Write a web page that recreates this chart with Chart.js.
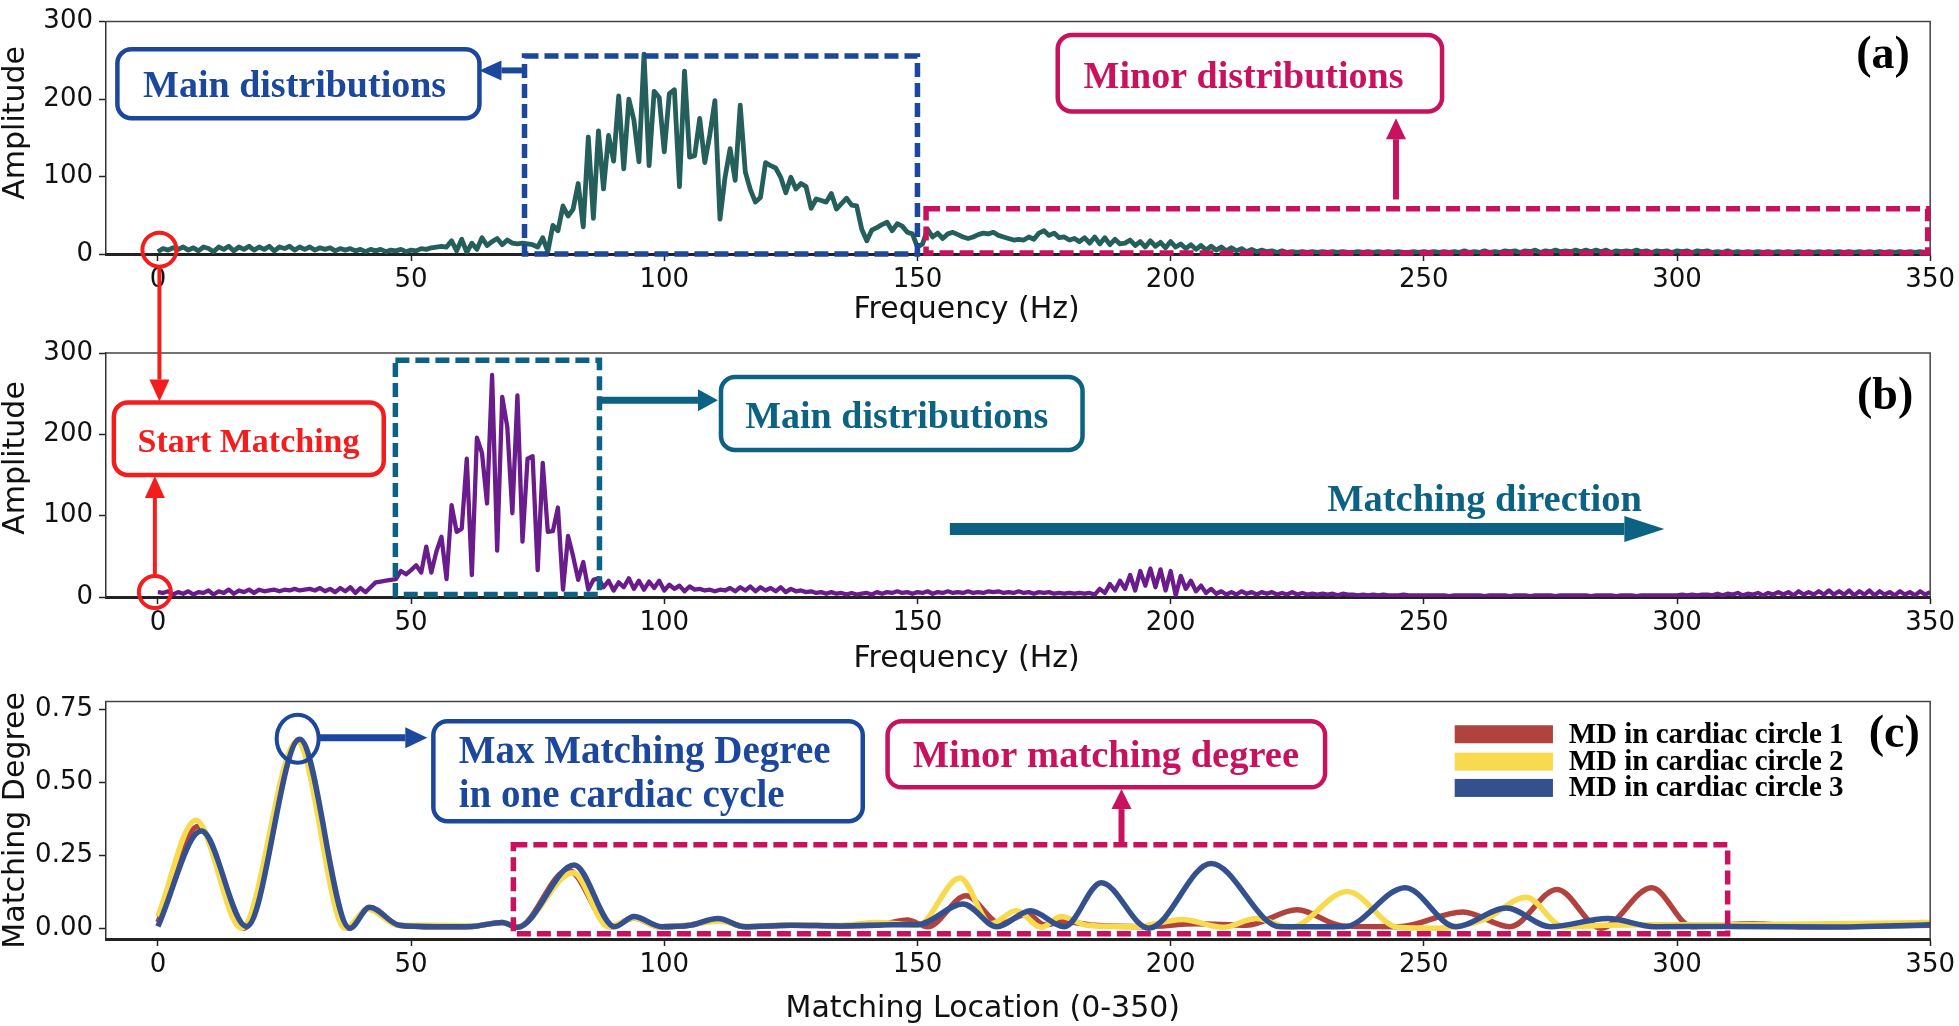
<!DOCTYPE html>
<html>
<head>
<meta charset="utf-8">
<title>Frequency distribution matching</title>
<script src="https://cdn.jsdelivr.net/npm/chart.js"></script>
<style>
  html, body { margin: 0; padding: 0; background: #fff; }
  #wrap { position: relative; width: 1959px; height: 1026px; overflow: hidden; }
  #wrap canvas { position: absolute; left: 0; }
  #chartA { top: 0; }
  #chartB { top: 330px; }
  #chartC { top: 680px; }
  #notes { top: 0; pointer-events: none; }
</style>
</head>
<body>
<div id="wrap">
  <canvas id="chartA" width="1959" height="330"></canvas>
  <canvas id="chartB" width="1959" height="350"></canvas>
  <canvas id="chartC" width="1959" height="346"></canvas>
  <canvas id="notes" width="1959" height="1026"></canvas>
</div>
<script>
// ---- data ----
const freqTicks = [0, 50, 100, 150, 200, 250, 300, 350];
const ampTicks = [0, 100, 200, 300];
const mdTicks = [0, 0.25, 0.5, 0.75];

// one sample per Hz, 0..350
const freqs = Array.from({ length: 351 }, (_, i) => i);

// (a) spectrum
const ampA = [
  3, 7, 5, 8, 6, 9, 5, 8, 4, 9,
  7, 3, 9, 6, 10, 4, 9, 6, 10, 5,
  9, 6, 10, 4, 9, 7, 10, 5, 9, 6,
  9, 5, 8, 6, 8, 4, 7, 5, 7, 4,
  6, 3, 6, 4, 6, 3, 5, 4, 6, 3,
  5, 4, 7, 6, 8, 9, 10, 9, 17, 4,
  19, 2, 14, 6, 21, 11, 16, 20, 12, 18,
  14, 13, 14, 13, 12, 9, 21, 3, 37, 30,
  62, 49, 58, 91, 35, 151, 46, 159, 84, 153,
  120, 204, 110, 200, 173, 119, 258, 114, 210, 202,
  132, 207, 212, 87, 236, 125, 127, 175, 118, 154,
  198, 45, 99, 136, 95, 192, 106, 83, 67, 73,
  118, 114, 111, 99, 79, 99, 84, 91, 87, 59,
  71, 69, 67, 78, 58, 65, 72, 63, 62, 32,
  17, 31, 34, 38, 41, 30, 39, 36, 28, 26,
  9, 13, 32, 22, 27, 20, 26, 28, 25, 22,
  20, 22, 25, 27, 26, 28, 24, 22, 20, 18,
  19, 18, 22, 19, 27, 30, 24, 27, 21, 22,
  18, 20, 16, 21, 14, 22, 13, 21, 12, 19,
  13, 14, 18, 11, 16, 9, 17, 10, 15, 8,
  16, 9, 13, 7, 12, 6, 11, 5, 10, 5,
  9, 4, 8, 4, 7, 3, 6, 3, 5, 3,
  4, 2, 4, 2, 3, 2, 3, 2, 3, 2,
  3, 2, 3, 2, 3, 2, 2, 3, 2, 3,
  2, 3, 2, 3, 2, 3, 2, 2, 3, 2,
  3, 2, 3, 2, 3, 2, 3, 2, 4, 2,
  3, 2, 4, 2, 3, 2, 4, 3, 4, 2,
  4, 3, 5, 2, 4, 3, 5, 3, 4, 3,
  5, 3, 5, 3, 5, 3, 5, 2, 4, 3,
  4, 3, 5, 3, 4, 2, 4, 3, 4, 2,
  4, 3, 4, 2, 4, 3, 4, 2, 3, 2,
  4, 2, 3, 2, 3, 2, 3, 2, 3, 2,
  3, 2, 3, 2, 3, 2, 3, 2, 3, 2,
  3, 2, 3, 2, 3, 2, 3, 2, 3, 2,
  3, 2, 3, 2, 3, 2, 3, 2, 3, 2, 3
];

// (b) spectrum
const ampB = [
  6, 5, 7, 3, 6, 4, 7, 3, 6, 5,
  8, 3, 7, 5, 9, 4, 8, 6, 9, 5,
  9, 7, 8, 9, 7, 9, 8, 10, 8, 9,
  10, 8, 11, 7, 10, 6, 11, 7, 12, 5,
  11, 6, 12, 18, 19, 20, 21, 22, 32, 28,
  33, 39, 30, 62, 30, 56, 74, 22, 113, 80,
  84, 170, 27, 196, 177, 115, 273, 57, 246, 209,
  103, 248, 68, 170, 173, 33, 165, 80, 81, 110,
  9, 75, 50, 21, 43, 9, 21, 23, 12, 20,
  8, 18, 12, 23, 10, 20, 9, 19, 11, 20,
  8, 15, 10, 14, 7, 13, 9, 10, 8, 9,
  7, 9, 8, 11, 7, 12, 8, 13, 7, 12,
  8, 11, 7, 12, 6, 10, 7, 8, 6, 7,
  5, 6, 4, 6, 4, 5, 3, 5, 3, 4,
  5, 3, 6, 4, 6, 5, 7, 5, 6, 4,
  6, 5, 7, 4, 6, 5, 7, 5, 6, 5,
  7, 5, 6, 5, 7, 6, 7, 5, 6, 5,
  7, 5, 6, 4, 6, 5, 6, 4, 5, 4,
  5, 4, 5, 4, 5, 3, 10, 5, 16, 8,
  20, 10, 27, 8, 32, 14, 35, 12, 34, 8,
  32, 2, 26, 10, 20, 7, 14, 5, 10, 4,
  7, 3, 6, 3, 7, 4, 6, 3, 6, 4,
  6, 3, 5, 3, 6, 3, 5, 3, 4, 3,
  4, 3, 4, 2, 4, 3, 3, 2, 3, 2,
  3, 2, 3, 2, 2, 2, 3, 2, 2, 2,
  2, 2, 2, 2, 2, 1, 2, 2, 2, 2,
  2, 2, 1, 2, 2, 2, 2, 1, 2, 2,
  2, 1, 2, 2, 2, 2, 1, 2, 2, 2,
  2, 2, 2, 1, 2, 2, 2, 2, 1, 2,
  2, 2, 1, 2, 2, 2, 2, 2, 2, 2,
  2, 3, 2, 3, 2, 3, 3, 2, 4, 2,
  4, 3, 5, 2, 4, 3, 5, 2, 5, 3,
  6, 3, 6, 2, 7, 3, 6, 3, 7, 3,
  8, 3, 7, 3, 8, 2, 7, 3, 8, 2,
  7, 3, 6, 2, 7, 3, 6, 2, 7, 3, 6
];

// (c) matching degree, read at turning points of each curve
const md1X = [0, 8, 17, 27.8, 37.5, 41.8, 47.5, 55, 62, 68, 71, 81, 89.5, 94, 99, 105, 110.6, 116, 125, 135, 142, 148, 152, 159.6, 166.4, 171.7, 175, 179, 185, 195, 205, 215, 225, 234, 245, 257.7, 267, 276.3, 285, 295, 303, 315, 325, 340, 350];
const md1Y = [0.02, 0.35, 0.0, 0.645, 0.0, 0.07, 0.01, 0.005, 0.006, 0.02, 0.003, 0.2, 0.005, 0.035, 0.005, 0.01, 0.03, 0.005, 0.01, 0.008, 0.01, 0.028, 0.005, 0.111, 0.015, 0.05, 0.012, 0.022, 0.01, 0.005, 0.015, 0.01, 0.063, 0.008, 0.005, 0.056, 0.005, 0.133, 0.0, 0.139, 0.005, 0.015, 0.005, 0.008, 0.01];
const md2X = [0, 7.5, 16.5, 27.5, 37, 41.5, 47.5, 55, 62, 68, 71, 82, 89, 94, 99, 105, 111, 116, 125, 135, 142, 150, 158.4, 164.5, 169.5, 174.5, 178.3, 183.6, 193, 202.3, 210.3, 216.9, 223.6, 234.9, 244.9, 252.9, 262, 270.2, 277.6, 286, 295, 310, 330, 350];
const md2Y = [0.04, 0.37, 0.0, 0.64, 0.0, 0.065, 0.01, 0.01, 0.008, 0.02, 0.005, 0.19, 0.005, 0.035, 0.005, 0.012, 0.025, 0.006, 0.012, 0.01, 0.02, 0.01, 0.172, 0.015, 0.06, 0.003, 0.04, 0.01, 0.005, 0.03, 0.003, 0.033, 0.003, 0.126, 0.003, 0.0, 0.03, 0.106, 0.005, 0.01, 0.012, 0.012, 0.015, 0.02];
const md3X = [0, 8.6, 17.5, 28, 37.9, 41.8, 47.7, 55, 62, 68, 71, 82.2, 90.2, 94, 99.5, 105, 110.6, 116, 125, 135, 145, 150, 159, 165.7, 172.3, 179, 186.3, 195.7, 208, 221.6, 234.3, 246.3, 256.3, 266.3, 275, 286.3, 295.6, 310, 330, 350];
const md3Y = [0.006, 0.333, 0.006, 0.648, 0.0, 0.072, 0.01, 0.005, 0.006, 0.02, 0.003, 0.217, 0.005, 0.04, 0.005, 0.01, 0.033, 0.005, 0.01, 0.008, 0.012, 0.012, 0.083, 0.005, 0.06, 0.005, 0.156, 0.0, 0.222, 0.005, 0.005, 0.139, 0.005, 0.069, 0.005, 0.033, 0.005, 0.006, 0.004, 0.012];

const mdLabels = ['MD in cardiac circle 1', 'MD in cardiac circle 2', 'MD in cardiac circle 3'];

// ---- colours / fonts ----
const BLUE = '#1b479c', MAGENTA = '#c8125e', TEAL = '#0c6282', RED = '#f41d1d';
const SERIF = '"Liberation Serif", "Times New Roman", serif';
const SANS = '"DejaVu Sans", sans-serif';

const pts = (xs, ys) => xs.map((x, i) => ({ x, y: ys[i] }));

// frame (top/right spines) + axis titles
const framePlugin = {
  id: 'frame',
  afterDraw(chart, args, o) {
    const { ctx, chartArea: a } = chart;
    ctx.save();
    ctx.strokeStyle = '#444';
    ctx.lineWidth = 1.5;
    ctx.beginPath();
    ctx.moveTo(a.left, a.top);
    ctx.lineTo(a.right, a.top);
    ctx.lineTo(a.right, a.bottom);
    ctx.stroke();
    ctx.fillStyle = '#111';
    ctx.font = '30px ' + SANS;
    ctx.textAlign = 'center';
    ctx.textBaseline = 'alphabetic';
    ctx.fillText(o.xTitle, chart.scales.x.getPixelForValue(o.xTitleAt), o.xTitleY);
    ctx.translate(24, (a.top + a.bottom) / 2 + o.yShift);
    ctx.rotate(-Math.PI / 2);
    ctx.fillText(o.yTitle, 0, 0);
    ctx.restore();
  }
};

function scales(yMin, yMax, yTicks, fmt, xHeight) {
  const tickFont = { family: SANS, size: 26 };
  const grid = { drawOnChartArea: false, tickLength: 7, tickWidth: 1.5, tickColor: '#222' };
  return {
    x: {
      type: 'linear', min: -10.25, max: 350,
      afterBuildTicks: s => { s.ticks = freqTicks.map(v => ({ value: v })); },
      afterFit: s => { s.height = xHeight; },
      grid,
      border: { display: true, color: '#222', width: 3 },
      ticks: { font: tickFont, color: '#111', padding: 4, maxRotation: 0, autoSkip: false }
    },
    y: {
      type: 'linear', min: yMin, max: yMax,
      afterBuildTicks: s => { s.ticks = yTicks.map(v => ({ value: v })); },
      afterFit: s => { s.width = 106; },
      grid,
      border: { display: true, color: '#333', width: 1.5 },
      ticks: { font: tickFont, color: '#111', padding: 6, callback: fmt }
    }
  };
}

function baseOptions(pad, sc, frame) {
  return {
    responsive: false,
    animation: false,
    events: [],
    layout: { padding: pad },
    scales: sc,
    plugins: { legend: { display: false }, tooltip: { enabled: false }, frame }
  };
}

const chartA = new Chart(document.getElementById('chartA'), {
  type: 'line',
  data: {
    datasets: [{
      data: pts(freqs, ampA), borderColor: '#255f5c', borderWidth: 4.8,
      pointRadius: 0, tension: 0, borderJoinStyle: 'round'
    }]
  },
  options: baseOptions({ top: 11, right: 26, left: 0, bottom: 0 },
    scales(0, 300, ampTicks, v => v, 76),
    { xTitle: 'Frequency (Hz)', xTitleAt: 159.7, xTitleY: 318, yTitle: 'Amplitude', yShift: -15 }),
  plugins: [framePlugin]
});

const chartB = new Chart(document.getElementById('chartB'), {
  type: 'line',
  data: {
    datasets: [{
      data: pts(freqs, ampB), borderColor: '#6a1c8c', borderWidth: 4.3,
      pointRadius: 0, tension: 0, borderJoinStyle: 'round'
    }]
  },
  options: baseOptions({ top: 23, right: 26, left: 0, bottom: 0 },
    scales(0, 300, ampTicks, v => v, 83),
    { xTitle: 'Frequency (Hz)', xTitleAt: 159.7, xTitleY: 337, yTitle: 'Amplitude', yShift: -17 }),
  plugins: [framePlugin]
});

const chartC = new Chart(document.getElementById('chartC'), {
  type: 'line',
  data: {
    datasets: [
      { label: mdLabels[0], data: pts(md1X, md1Y), borderColor: '#b0433d', order: 2 },
      { label: mdLabels[1], data: pts(md2X, md2Y), borderColor: '#f8da4e', order: 1 },
      { label: mdLabels[2], data: pts(md3X, md3Y), borderColor: '#34508f', order: 0 }
    ].map(d => Object.assign(d, { borderWidth: 5.5, pointRadius: 0, cubicInterpolationMode: 'monotone' }))
  },
  options: baseOptions({ top: 15, right: 26, left: 0, bottom: 0 },
    scales(-0.037, 0.777, mdTicks, v => v.toFixed(2), 87),
    { xTitle: 'Matching Location (0-350)', xTitleAt: 162.9, xTitleY: 337, yTitle: 'Matching Degree', yShift: 0 }),
  plugins: [framePlugin]
});

// ---- annotations (data coordinates -> page pixels through each chart's scales) ----
const nctx = document.getElementById('notes').getContext('2d');
const X = (ch, v) => ch.scales.x.getPixelForValue(v);
const Y = (ch, v) => ch.canvas.offsetTop + ch.scales.y.getPixelForValue(v);

function dashedRect(ch, x0, x1, y0, y1, color) {
  const l = X(ch, x0), r = X(ch, x1), t = Y(ch, y1), b = Y(ch, y0);
  nctx.save();
  nctx.strokeStyle = color; nctx.lineWidth = 5.5; nctx.setLineDash([14, 6]);
  nctx.strokeRect(l, t, r - l, b - t);
  nctx.restore();
}

function roundBox(ch, x0, x1, y0, y1, color) {
  const l = X(ch, x0), r = X(ch, x1), t = Y(ch, y1), b = Y(ch, y0);
  nctx.save();
  nctx.fillStyle = '#fff'; nctx.strokeStyle = color; nctx.lineWidth = 4.5;
  nctx.beginPath(); nctx.roundRect(l, t, r - l, b - t, 14); nctx.fill(); nctx.stroke();
  nctx.restore();
}

function label(ch, txt, x, y, color, size, align) {
  nctx.save();
  nctx.fillStyle = color; nctx.font = 'bold ' + size + 'px ' + SERIF;
  nctx.textAlign = align || 'center'; nctx.textBaseline = 'alphabetic';
  nctx.fillText(txt, X(ch, x), Y(ch, y));
  nctx.restore();
}

function arrow(x0, y0, x1, y1, color, lw, hl, hw) {
  const ang = Math.atan2(y1 - y0, x1 - x0);
  const bx = x1 - hl * Math.cos(ang), by = y1 - hl * Math.sin(ang);
  nctx.save();
  nctx.strokeStyle = color; nctx.fillStyle = color; nctx.lineWidth = lw;
  nctx.beginPath(); nctx.moveTo(x0, y0); nctx.lineTo(bx, by); nctx.stroke();
  nctx.beginPath(); nctx.moveTo(x1, y1);
  nctx.lineTo(bx + hw / 2 * Math.sin(ang), by - hw / 2 * Math.cos(ang));
  nctx.lineTo(bx - hw / 2 * Math.sin(ang), by + hw / 2 * Math.cos(ang));
  nctx.closePath(); nctx.fill();
  nctx.restore();
}

function ring(cx, cy, rx, ry, color) {
  nctx.save();
  nctx.strokeStyle = color; nctx.lineWidth = 4;
  nctx.beginPath(); nctx.ellipse(cx, cy, rx, ry, 0, 0, Math.PI * 2); nctx.stroke();
  nctx.restore();
}

// panel (a)
dashedRect(chartA, 72.4, 150, 0, 255.6, BLUE);
arrow(X(chartA, 72.4), Y(chartA, 237), X(chartA, 63.5), Y(chartA, 237), BLUE, 6, 22, 20);
roundBox(chartA, -8.0, 63.5, 175.3, 264.2, BLUE);
label(chartA, 'Main distributions', 27.0, 202.5, BLUE, 38);
dashedRect(chartA, 151.7, 349.5, 1.2, 58.4, MAGENTA);
arrow(X(chartA, 244.5), Y(chartA, 70.4), X(chartA, 244.5), Y(chartA, 175.3), MAGENTA, 6, 21, 20);
roundBox(chartA, 177.7, 253.6, 184, 282.7, MAGENTA);
label(chartA, 'Minor distributions', 214.4, 214.8, MAGENTA, 38);
label(chartA, '(a)', 340.7, 240.7, '#000', 46);

// panel (b)
dashedRect(chartB, 46.9, 87.2, 3, 291, TEAL);
arrow(X(chartB, 87.2), Y(chartB, 242), X(chartB, 110.6), Y(chartB, 242), TEAL, 7, 20, 22);
roundBox(chartB, 111.2, 182.6, 180.7, 270.5, TEAL);
label(chartB, 'Main distributions', 145.9, 207.8, TEAL, 38);
arrow(X(chartB, 156.4), Y(chartB, 83.6), X(chartB, 297.5), Y(chartB, 83.6), TEAL, 12, 40, 26);
label(chartB, 'Matching direction', 262, 105.7, TEAL, 38.5);
label(chartB, '(b)', 341.1, 231, '#000', 46);

// start matching (spans (a) and (b))
const ringA = { x: X(chartA, 0.3), y: Y(chartA, 5.6) };
const ringB = { x: X(chartB, -0.6), y: Y(chartB, 6.1) };
ring(ringA.x, ringA.y, 17, 17, RED);
ring(ringB.x, ringB.y, 16, 16, RED);
roundBox(chartB, -8.7, 44.6, 150, 239, RED);
label(chartB, 'Start Matching', 17.9, 178.3, RED, 34);
arrow(ringA.x, ringA.y + 17, ringA.x, Y(chartB, 239) - 1, RED, 4, 22, 20);
arrow(ringB.x, ringB.y - 16, ringB.x, Y(chartB, 150) + 1, RED, 4, 22, 20);

// panel (c)
ring(X(chartC, 27.6), Y(chartC, 0.65), 21, 24, BLUE);
arrow(X(chartC, 31.7), Y(chartC, 0.653), X(chartC, 53.2), Y(chartC, 0.653), BLUE, 7, 22, 21);
roundBox(chartC, 54.4, 139.2, 0.367, 0.71, BLUE);
label(chartC, 'Max Matching Degree', 59.4, 0.567, BLUE, 39, 'left');
label(chartC, 'in one cardiac cycle', 59.4, 0.417, BLUE, 39, 'left');
dashedRect(chartC, 70.2, 310, -0.019, 0.286, MAGENTA);
arrow(X(chartC, 190.3), Y(chartC, 0.283), X(chartC, 190.3), Y(chartC, 0.477), MAGENTA, 6, 20, 20);
roundBox(chartC, 144.1, 230.5, 0.483, 0.71, MAGENTA);
label(chartC, 'Minor matching degree', 187.2, 0.554, MAGENTA, 38.5);
label(chartC, '(c)', 342.9, 0.623, '#000', 46);

// legend of (c)
const legendRows = [0.665, 0.571, 0.481];
chartC.data.datasets.forEach((d, i) => {
  const cy = Y(chartC, legendRows[i]);
  const l = X(chartC, 256.1), r = X(chartC, 275.5);
  nctx.fillStyle = d.borderColor;
  nctx.fillRect(l, cy - 9, r - l, 18);
  nctx.fillStyle = '#000';
  nctx.font = 'bold 29px ' + SERIF;
  nctx.textAlign = 'left'; nctx.textBaseline = 'middle';
  nctx.fillText(d.label, X(chartC, 278.6), cy + 1);
});
</script>
</body>
</html>
